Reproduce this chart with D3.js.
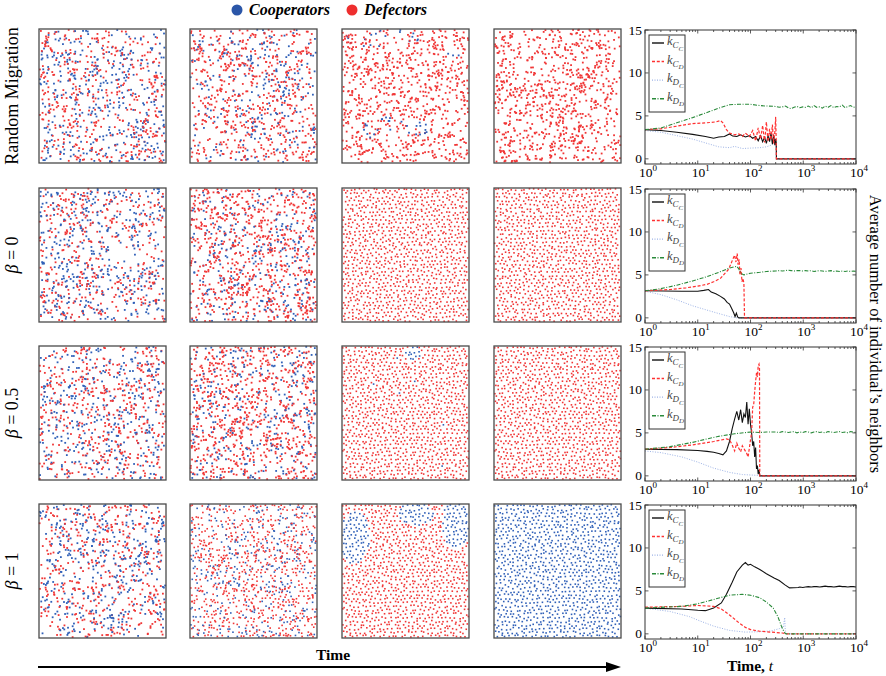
<!DOCTYPE html>
<html>
<head>
<meta charset="utf-8">
<script src="https://cdnjs.cloudflare.com/ajax/libs/d3/7.8.5/d3.min.js"></script>
<style>
  body { margin: 0; background: #fff; }
  svg, svg text { font-family: "Liberation Serif", "Times New Roman", Times, serif; }
  svg { display: block; }
</style>
</head>
<body>
<svg id="fig" width="886" height="676"></svg>
<script>
// ---- data ----
const rowLabels = ['Random Migration', 'β = 0', 'β = 0.5', 'β = 1'];
const strategyNames = ['Cooperators', 'Defectors'];

// snapshots: rows x 4 time columns
const populationSize = 900;
const coopShare = [
  [0.46, 0.30, 0.0, 0],
  [0.47, 0.27, 0, 0],
  [0.46, 0.30, 0.004, 0],
  [0.45, 0.30, 0, 1]
];
// 0 = scattered individuals, 1 = settled in a packed arrangement
const settled = [
  [0, 0, 0, 0],
  [0, 0.1, 1, 1],
  [0, 0.15, 1, 1],
  [0, 0.55, 1, 1]
];
// cooperator patches [cx, cy, rx, ry, share] in panel fractions
const coopPatches = [
  [[], [], [[0.33, 0.07, 0.3, 0.07, 0.35], [0.42, 0.75, 0.26, 0.1, 0.35], [0.85, 0.18, 0.08, 0.06, 0.6]], []],
  [[], [], [], []],
  [[], [], [[0.56, 0.05, 0.07, 0.05, 1]], []],
  [[], [], [[0.1, 0.25, 0.12, 0.2, 1], [0.58, 0.07, 0.14, 0.09, 1], [0.9, 0.15, 0.12, 0.17, 1]], []]
];

// average number of neighbours, [time, k]
const kCC = [
  [[1,3.4],[2,3.3],[4,3.1],[8,2.85],[14,2.6],[20,2.4],[25,2.55],[32,2.6],[40,2.9],[46,2.65],[55,2.6],[65,2.8],[80,2.55],[95,2.7],[110,2.4],[125,2.6],[140,2.1],[155,2.7],[170,2.0],[185,2.5],[200,1.8],[215,2.7],[230,2.0],[245,3.0],[260,1.7],[275,2.8],[290,1.6],[300,2.3],[308,1.9],[310,0],[10000,0]],
  [[1,3.15],[5,3.1],[10,3.1],[13,3.2],[16,3.3],[18,3.0],[22,2.8],[27,2.5],[32,2.2],[36,1.8],[40,1.6],[44,1.1],[48,0.6],[51,0.15],[54,0.55],[57,0.1],[60,0],[10000,0]],
  [[1,3.1],[4,3.05],[10,2.95],[15,2.85],[20,2.75],[25,2.6],[30,2.45],[35,2.9],[40,4.0],[45,5.5],[50,6.6],[55,7.5],[60,6.5],[65,7.7],[70,6.2],[75,7.2],[80,6.8],[85,8.6],[90,6.0],[95,7.8],[100,6.0],[105,5.0],[110,3.5],[115,4.0],[120,2.2],[125,3.3],[130,0.8],[135,1.2],[140,0.2],[145,0.7],[150,0],[10000,0]],
  [[1,3.0],[5,2.9],[10,2.75],[14,2.7],[20,3.0],[28,3.6],[35,4.6],[45,6.0],[55,7.2],[70,8.0],[80,8.3],[90,8.0],[100,8.1],[120,7.8],[150,7.5],[200,7.0],[280,6.5],[350,6.2],[450,5.7],[550,5.35],[800,5.4]]
];
const kCD = [
  [[1,3.4],[2,3.5],[4,3.8],[8,4.1],[15,4.2],[22,4.3],[27,4.45],[30,4.2],[35,3.4],[40,3.0],[50,2.8],[60,2.9],[70,2.6],[80,3.0],[95,2.6],[110,3.3],[125,2.1],[140,3.6],[155,2.3],[170,3.9],[185,1.9],[200,4.3],[215,2.0],[230,3.5],[245,2.2],[260,4.0],[275,1.8],[290,3.2],[300,4.9],[306,2.5],[310,0],[10000,0]],
  [[1,3.15],[3,3.3],[6,3.5],[10,3.7],[15,3.9],[20,4.2],[27,4.6],[33,5.2],[38,5.6],[42,6.2],[46,6.8],[50,7.3],[53,6.5],[56,7.5],[58,6.2],[61,6.8],[63,5.0],[66,5.8],[69,4.2],[72,4.6],[75,4.0],[77,0],[10000,0]],
  [[1,3.1],[3,3.3],[8,3.6],[20,4.0],[35,4.3],[40,4.2],[45,3.6],[50,2.9],[55,3.8],[60,3.2],[65,2.8],[70,3.5],[78,3.0],[85,2.6],[90,2.2],[95,3.2],[100,4.2],[105,5.0],[110,8.0],[115,8.3],[120,9.8],[125,11],[130,12],[135,11.5],[140,12.8],[145,13],[148,12.5],[150,0],[10000,0]],
  [[1,3.1],[5,3.2],[10,3.3],[20,3.2],[28,2.9],[40,2.2],[60,1.3],[80,0.75],[100,0.5],[150,0.3],[250,0.2],[400,0.1],[500,0],[10000,0]]
];
const kDC = [
  [[1,3.3],[2,3.1],[4,2.7],[8,2.3],[15,1.8],[25,1.4],[40,1.3],[50,1.45],[70,1.2],[100,1.25],[150,1.3],[200,1.4],[250,1.6],[290,1.9],[305,1.2],[310,0],[10000,0]],
  [[1,3.1],[2,2.7],[4,2.1],[8,1.4],[15,0.9],[25,0.5],[40,0.15],[55,0],[10000,0]],
  [[1,2.9],[2,2.7],[5,2.2],[10,1.6],[20,0.9],[40,0.4],[70,0.15],[100,0.1],[140,0.05],[150,0],[10000,0]],
  [[1,3.0],[3,2.6],[7,2.0],[10,1.6],[20,0.9],[40,0.4],[80,0.2],[150,0.25],[250,0.35],[350,0.6],[420,0.8],[445,1.9],[455,0.5],[470,0],[10000,0]]
];
const kDD = [
  [[1,3.4],[2,3.6],[4,4.2],[8,4.8],[15,5.4],[25,5.9],[40,6.3],[60,6.35],[100,6.35],[150,6.2],[200,6.15]],
  [[1,3.15],[2,3.4],[4,3.8],[8,4.3],[15,4.8],[25,5.3],[40,5.8],[55,6.0],[60,5.7],[65,5.2],[75,5.0],[100,5.2],[150,5.3],[200,5.4]],
  [[1,3.1],[3,3.4],[8,3.9],[15,4.3],[25,4.6],[50,4.9],[100,5.1],[150,5.05],[200,5.1]],
  [[1,3.0],[5,3.2],[10,3.5],[20,4.0],[40,4.5],[70,4.6],[100,4.5],[150,4.2],[200,3.7],[270,3.0],[330,2.0],[380,1.0],[420,0.4],[450,0.1],[470,0],[10000,0]]
];
// steady-state tails (shared time grid), used after the last point above
const tailTimes = [300,350,400,460,520,590,670,760,860,980,1100,1250,1420,1600,1800,2050,2300,2600,2950,3350,3800,4300,4850,5500,6200,7000,7900,8900,10000];
const kDDTail = [
  [6.1,6.0,6.05,6.15,5.95,5.85,6.0,6.1,5.95,6.05,6.0,6.15,5.95,6.2,6.0,6.05,5.9,6.15,6.0,6.2,5.95,6.1,6.05,6.25,5.95,6.1,6.2,6.0,6.05],
  [5.45,5.5,5.45,5.5,5.55,5.5,5.45,5.5,5.5,5.45,5.5,5.45,5.5,5.4,5.45,5.5,5.45,5.4,5.45,5.5,5.4,5.45,5.4,5.45,5.4,5.45,5.4,5.45,5.4],
  [5.1,5.05,5.15,5.1,5.05,5.1,5.15,5.0,5.1,5.05,5.15,5.1,5.0,5.1,5.15,5.05,5.1,5.0,5.15,5.1,5.05,5.1,5.15,5.05,5.1,5.0,5.15,5.1,5.05],
  []
];
const kCCTail = [
  [], [], [],
  [5.4,5.4,5.4,5.4,5.4,5.4,5.4,5.4,5.45,5.4,5.45,5.5,5.45,5.5,5.5,5.45,5.5,5.55,5.5,5.5,5.45,5.5,5.55,5.5,5.5,5.45,5.5,5.5,5.45]
];
const yTicks = [0, 5, 10, 15];
const xTickExps = [0, 1, 2, 3, 4];

// ---- layout ----
const W = 886, H = 676;
const panelX = [39, 190, 342, 494];
const rowTop = [29, 188, 346, 504];
const panelW = 127, panelH = 134;
const chartLeft = 645, chartRight = 856;
const coopColor = '#3060b8', defColor = '#f03535';
const serif = '"Liberation Serif", "Times New Roman", Times, serif';

const svg = d3.select('#fig');
svg.append('rect').attr('width', W).attr('height', H).attr('fill', '#fff');

// top legend
const topLegend = svg.append('g');
[237, 352].forEach((cx, i) => {
  topLegend.append('circle').attr('cx', cx).attr('cy', 10).attr('r', 5.5)
    .attr('fill', i === 0 ? '#2b56a8' : '#ee2e2e');
  topLegend.append('text').attr('x', cx + 12).attr('y', 15)
    .attr('font-family', serif)
    .attr('font-size', 16).attr('font-weight', 'bold').attr('font-style', 'italic')
    .text(strategyNames[i]);
});

// row labels
rowLabels.forEach((lab, r) => {
  const t = svg.append('text')
    .attr('transform', `translate(18,${rowTop[r] + panelH / 2}) rotate(-90)`)
    .attr('font-family', serif)
    .attr('text-anchor', 'middle').attr('font-size', 18);
  if (r === 0) {
    t.text(lab);
  } else {
    t.append('tspan').attr('font-style', 'italic').text('β');
    t.append('tspan').text(lab.slice(1));
  }
});

// ---- snapshot panels ----
function makeDots(r, c) {
  const rng = d3.randomLcg((r * 4 + c + 1) * 0.0917);
  const gauss = d3.randomNormal.source(rng)(0, 0.075);
  const s = settled[r][c];
  const pts = [];
  if (s > 0) {
    const sp = 4.3, dy = sp * Math.sqrt(3) / 2;
    for (let j = 0, y = dy / 2; y < panelH - 0.5; j++, y += dy) {
      for (let x = (j % 2 ? sp * 0.75 : sp * 0.25); x < panelW - 0.5; x += sp) {
        if (rng() < s) {
          pts.push([(x + (rng() - 0.5) * 2.6) / panelW, (y + (rng() - 0.5) * 2.6) / panelH]);
        } else {
          pts.push([rng(), rng()]);
        }
      }
    }
  } else {
    // loose clumps on top of a uniform spread
    const centers = d3.range(40).map(() => [rng(), rng()]);
    for (let i = 0; i < populationSize; i++) {
      if (rng() < 0.3) {
        const ctr = centers[Math.floor(rng() * centers.length)];
        pts.push([ctr[0] + gauss(), ctr[1] + gauss()]);
      } else {
        pts.push([rng(), rng()]);
      }
    }
  }
  return pts.filter(p => p[0] > 0.005 && p[0] < 0.995 && p[1] > 0.005 && p[1] < 0.995).map(p => {
    let coop = null;
    coopPatches[r][c].forEach(([cx, cy, rx, ry, share]) => {
      const dx = (p[0] - cx) / rx, dyy = (p[1] - cy) / ry;
      if (dx * dx + dyy * dyy <= 1) coop = rng() < share;
    });
    if (coop === null) coop = rng() < coopShare[r][c];
    return { x: p[0], y: p[1], coop };
  });
}

const px = d3.scaleLinear().domain([0, 1]).range([0, panelW]);
const py = d3.scaleLinear().domain([0, 1]).range([0, panelH]);

rowTop.forEach((top, r) => {
  panelX.forEach((left, c) => {
    const g = svg.append('g').attr('transform', `translate(${left},${top})`);
    const sz = settled[r][c] > 0.5 ? 1.6 : 1.8;
    g.selectAll('rect.dot').data(makeDots(r, c)).join('rect')
      .attr('class', 'dot')
      .attr('x', d => px(d.x) - sz / 2).attr('y', d => py(d.y) - sz / 2)
      .attr('width', sz).attr('height', sz)
      .attr('fill', d => d.coop ? coopColor : defColor);
    g.append('rect').attr('width', panelW).attr('height', panelH)
      .attr('fill', 'none').attr('stroke', '#4a4a4a').attr('stroke-width', 1.3);
  });
});

// ---- neighbour charts ----
const x = d3.scaleLog().domain([1, 1e4]).range([chartLeft, chartRight]);
const seriesStyle = [
  { key: 'kDC', data: kDC, tail: null, color: '#9db3e6', dash: '1,1.5', width: 1, sub: ['D', 'C'] },
  { key: 'kCC', data: kCC, tail: kCCTail, color: '#111', dash: null, width: 1.1, sub: ['C', 'C'] },
  { key: 'kCD', data: kCD, tail: null, color: '#ff3030', dash: '3,1.8', width: 1.2, sub: ['C', 'D'] },
  { key: 'kDD', data: kDD, tail: kDDTail, color: '#2a8a3a', dash: '4,1.5,1,1.5', width: 1.1, sub: ['D', 'D'] }
];
const legendOrder = ['kCC', 'kCD', 'kDC', 'kDD'];
const minorTicks = [];
[0, 1, 2, 3].forEach(e => d3.range(2, 10).forEach(m => minorTicks.push(m * Math.pow(10, e))));

rowTop.forEach((top, r) => {
  const pTop = top + 1, pBot = top + panelH + 1;
  const y = d3.scaleLinear().domain([-0.6, 15]).range([pBot, pTop]);
  const g = svg.append('g').attr('font-family', serif);

  g.append('clipPath').attr('id', `clip${r}`).append('rect')
    .attr('x', chartLeft).attr('y', pTop).attr('width', chartRight - chartLeft).attr('height', pBot - pTop);

  const line = d3.line().x(d => x(d[0])).y(d => y(d[1]));
  const lines = g.append('g').attr('clip-path', `url(#clip${r})`);
  seriesStyle.forEach(s => {
    let pts = s.data[r].slice();
    if (s.tail && s.tail[r].length) {
      const last = pts[pts.length - 1][0];
      tailTimes.forEach((t, i) => { if (t > last) pts.push([t, s.tail[r][i]]); });
    }
    lines.append('path').datum(pts).attr('d', line)
      .attr('fill', 'none').attr('stroke', s.color).attr('stroke-width', s.width)
      .attr('stroke-dasharray', s.dash);
  });

  // frame and ticks (inward, on all sides)
  g.append('rect').attr('x', chartLeft).attr('y', pTop)
    .attr('width', chartRight - chartLeft).attr('height', pBot - pTop)
    .attr('fill', 'none').attr('stroke', '#333').attr('stroke-width', 1);
  const ticks = g.append('g').attr('stroke', '#333').attr('stroke-width', 0.8);
  xTickExps.forEach(e => {
    const tx = x(Math.pow(10, e));
    ticks.append('line').attr('x1', tx).attr('x2', tx).attr('y1', pBot).attr('y2', pBot - 3.5);
    ticks.append('line').attr('x1', tx).attr('x2', tx).attr('y1', pTop).attr('y2', pTop + 3.5);
  });
  minorTicks.forEach(t => {
    const tx = x(t);
    ticks.append('line').attr('x1', tx).attr('x2', tx).attr('y1', pBot).attr('y2', pBot - 2);
    ticks.append('line').attr('x1', tx).attr('x2', tx).attr('y1', pTop).attr('y2', pTop + 2);
  });
  yTicks.forEach(v => {
    ticks.append('line').attr('x1', chartLeft).attr('x2', chartLeft + 3.5).attr('y1', y(v)).attr('y2', y(v));
    ticks.append('line').attr('x1', chartRight).attr('x2', chartRight - 3.5).attr('y1', y(v)).attr('y2', y(v));
    g.append('text').attr('x', chartLeft - 3).attr('y', y(v) + 4.5)
      .attr('text-anchor', 'end').attr('font-size', 13.5).text(v);
  });
  xTickExps.forEach(e => {
    const t = g.append('text').attr('x', x(Math.pow(10, e)) + 3).attr('y', pBot + 13)
      .attr('text-anchor', 'middle').attr('font-size', 13.5);
    t.append('tspan').text('10');
    t.append('tspan').attr('font-size', 9).attr('dy', -6).text(e);
  });

  // legend
  const lg = g.append('g');
  lg.append('rect').attr('x', chartLeft + 4).attr('y', pTop + 5).attr('width', 36).attr('height', 77)
    .attr('fill', '#fff').attr('stroke', '#333').attr('stroke-width', 1);
  legendOrder.forEach((k, i) => {
    const s = seriesStyle.find(d => d.key === k);
    const ly = pTop + 13 + i * 18.6;
    lg.append('line').attr('x1', chartLeft + 7).attr('x2', chartLeft + 19).attr('y1', ly).attr('y2', ly)
      .attr('stroke', s.color).attr('stroke-width', s.width + 0.3).attr('stroke-dasharray', s.dash);
    const t = lg.append('text').attr('x', chartLeft + 22).attr('y', ly + 2)
      .attr('font-size', 12.5).attr('font-style', 'italic').attr('fill', '#444');
    t.append('tspan').text('k');
    t.append('tspan').attr('font-size', 9).attr('dy', 3).text(s.sub[0]);
    t.append('tspan').attr('font-size', 7).attr('dy', 2.5).text(s.sub[1]);
  });
});

// right axis title
svg.append('text').attr('transform', `translate(870,334) rotate(90)`)
  .attr('font-family', serif)
  .attr('text-anchor', 'middle').attr('font-size', 16.5)
  .text('Average number of individual\u2019s neighbors');

// time labels and arrow
svg.append('text').attr('x', 333).attr('y', 660).attr('text-anchor', 'middle')
  .attr('font-family', serif)
  .attr('font-size', 15.5).attr('font-weight', 'bold').text('Time');
svg.append('line').attr('x1', 38).attr('x2', 610).attr('y1', 667).attr('y2', 667)
  .attr('stroke', '#000').attr('stroke-width', 2);
svg.append('path').attr('d', 'M606,662 L621,667 L606,672 Z').attr('fill', '#000');
const tl = svg.append('text').attr('x', 750).attr('y', 671).attr('text-anchor', 'middle')
  .attr('font-family', serif)
  .attr('font-size', 15.5).attr('font-weight', 'bold');
tl.append('tspan').text('Time, ');
tl.append('tspan').attr('font-style', 'italic').attr('font-weight', 'normal').text('t');
</script>
</body>
</html>
